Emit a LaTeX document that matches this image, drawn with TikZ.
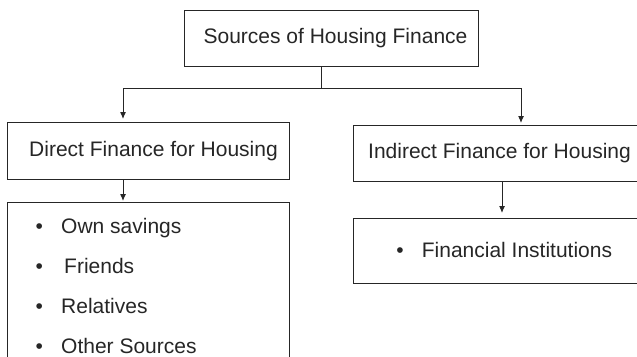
\documentclass[tikz,border=0pt]{standalone}
\usepackage{fontspec}
\setmainfont{Liberation Sans}
\usetikzlibrary{arrows.meta,positioning}
\begin{document}
\begin{tikzpicture}[x=1pt,y=-1pt,
  box/.style={draw=black!85,line width=1pt,inner sep=0pt,anchor=north west,text=black!85,font=\fontsize{21}{25}\selectfont},
  entry/.style={anchor=base west,inner sep=0pt,text=black!85,font=\fontsize{21}{25}\selectfont},
  conn/.style={draw=black!85,line width=1pt},
  flow/.style={conn,-{Latex[length=7pt,width=6pt]},shorten >=2pt}]
\useasboundingbox (0,0) rectangle (637,356);
\node[box,minimum width=294pt,minimum height=56pt] (sources) at (184,10) {\hspace*{8pt}Sources of Housing Finance};
\node[box,minimum width=282pt,minimum height=57pt] (direct) at (7,122) {\raisebox{4pt}{\hspace*{10pt}Direct Finance for Housing}};
\node[box,minimum width=282pt,minimum height=165pt] (list) at (7,202) {};
\node[box,minimum width=292pt,minimum height=56pt] (indirect) at (353,125) {Indirect Finance for Housing};
\node[box,minimum width=292pt,minimum height=65pt] (banks) at (353,218) {\raisebox{3pt}{\hspace*{9.5pt}\makebox[25.5pt][l]{•}Financial Institutions}};
\node[entry] (own) at (35.5,233) {\makebox[25.5pt][l]{•}Own savings};
\node[entry] (friends) at (35.5,273) {\makebox[28.5pt][l]{•}Friends};
\node[entry] (relatives) at (35.5,313) {\makebox[25.5pt][l]{•}Relatives};
\node[entry] (other) at (35.5,353) {\makebox[25.5pt][l]{•}Other Sources};
\coordinate (split) at (321,88);
\coordinate (dleft) at (123,0);
\coordinate (iright) at (521,0);
\coordinate (idown) at (502,0);
\draw[conn] (sources.south -| split) -- (split);
\draw[flow,shorten >=3pt] (split) -| (dleft |- direct.north);
\draw[flow] (split) -| (iright |- indirect.north);
\draw[flow,shorten >=1pt] (dleft |- direct.south) -- (dleft |- list.north);
\draw[flow,shorten >=5pt] (idown |- indirect.south) -- (idown |- banks.north);
\end{tikzpicture}
\end{document}
